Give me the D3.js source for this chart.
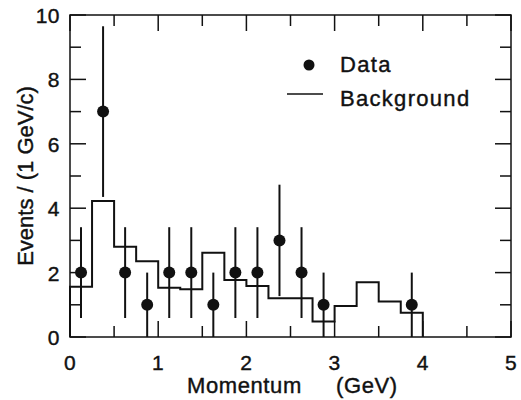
<!DOCTYPE html>
<html>
<head>
<meta charset="utf-8">
<script src="https://cdn.jsdelivr.net/npm/d3@7"></script>
<style>
  body { margin: 0; background: #fff; }
  text { font-family: "Liberation Sans", Arial, Helvetica, sans-serif; fill: #111; stroke: #111; stroke-width: 0.4px; }
</style>
</head>
<body>
<div id="chart"></div>
<script>
// data
const dataMomentum = [0.125, 0.375, 0.625, 0.875, 1.125, 1.375, 1.625, 1.875, 2.125, 2.375, 2.625, 2.875, 3.875];
const dataCounts = [2, 7, 2, 1, 2, 2, 1, 2, 2, 3, 2, 1, 1];
const dataErrors = [1.41, 2.65, 1.41, 1, 1.41, 1.41, 1, 1.41, 1.41, 1.73, 1.41, 1, 1];

const bgBinStart = [0, 0.25, 0.5, 0.75, 1.0, 1.25, 1.5, 1.75, 2.0, 2.25, 2.5, 2.75, 3.0, 3.25, 3.5, 3.75];
const bgValues = [1.56, 4.22, 2.80, 2.35, 1.53, 1.48, 2.62, 1.77, 1.58, 1.20, 1.20, 0.48, 0.96, 1.70, 1.10, 0.75];
const bgEnd = 4.0;

const xTickLabels = [0, 1, 2, 3, 4, 5];
const yTickLabels = [0, 2, 4, 6, 8, 10];

// dimensions
const width = 521,
    height = 400;
const plotLeft = 70, plotRight = 511, plotTop = 15, plotBottom = 337;
const ink = "#111";

const svg = d3.select("#chart")
    .append("svg")
    .attr("width", width)
    .attr("height", height);

const x = d3.scaleLinear().domain([0, 5]).range([plotLeft, plotRight]);
const y = d3.scaleLinear().domain([0, 10]).range([plotBottom, plotTop]);

// frame
svg.append("rect")
    .attr("x", plotLeft)
    .attr("y", plotTop)
    .attr("width", plotRight - plotLeft)
    .attr("height", plotBottom - plotTop)
    .attr("fill", "none")
    .attr("stroke", ink)
    .attr("stroke-width", 1.5);

// inward ticks, longer on the labelled values
const xTicks = d3.range(0, 5.01, 0.5);
const yTicks = d3.range(0, 10.01, 1);
const major = 16, minor = 11;

svg.append("g").selectAll("line")
    .data(xTicks)
    .join("line")
    .attr("x1", d => x(d)).attr("x2", d => x(d))
    .attr("y1", plotBottom)
    .attr("y2", d => plotBottom - (d % 1 === 0 ? major : minor))
    .attr("stroke", ink).attr("stroke-width", 1.5);

svg.append("g").selectAll("line")
    .data(xTicks)
    .join("line")
    .attr("x1", d => x(d)).attr("x2", d => x(d))
    .attr("y1", plotTop)
    .attr("y2", d => plotTop + (d % 1 === 0 ? major : minor))
    .attr("stroke", ink).attr("stroke-width", 1.5);

svg.append("g").selectAll("line")
    .data(yTicks)
    .join("line")
    .attr("y1", d => y(d)).attr("y2", d => y(d))
    .attr("x1", plotLeft)
    .attr("x2", d => plotLeft + (d % 2 === 0 ? major : minor))
    .attr("stroke", ink).attr("stroke-width", 1.5);

svg.append("g").selectAll("line")
    .data(yTicks)
    .join("line")
    .attr("y1", d => y(d)).attr("y2", d => y(d))
    .attr("x1", plotRight)
    .attr("x2", d => plotRight - (d % 2 === 0 ? major : minor))
    .attr("stroke", ink).attr("stroke-width", 1.5);

// tick labels
svg.append("g").selectAll("text")
    .data(xTickLabels)
    .join("text")
    .attr("x", d => x(d))
    .attr("y", 370)
    .attr("text-anchor", "middle")
    .style("font-size", "21px")
    .style("letter-spacing", "0.5px")
    .text(d => d);

svg.append("g").selectAll("text")
    .data(yTickLabels)
    .join("text")
    .attr("x", 60)
    .attr("y", d => y(d) + 8)
    .attr("text-anchor", "end")
    .style("font-size", "21px")
    .style("letter-spacing", "0.5px")
    .text(d => d);

// axis titles
svg.append("text")
    .attr("x", 187)
    .attr("y", 393)
    .style("font-size", "22px")
    .style("letter-spacing", "0.6px")
    .text("Momentum");

svg.append("text")
    .attr("x", 336)
    .attr("y", 393)
    .style("font-size", "22px")
    .style("letter-spacing", "0.6px")
    .text("(GeV)");

svg.append("text")
    .attr("transform", `translate(33, ${(plotTop + plotBottom) / 2}) rotate(-90)`)
    .attr("text-anchor", "middle")
    .style("font-size", "22px")
    .text("Events / (1 GeV/c)");

// background histogram
const histPoints = [[0, 0]]
    .concat(bgBinStart.map((b, i) => [b, bgValues[i]]))
    .concat([[bgEnd, 0]]);

const histLine = d3.line()
    .x(d => x(d[0]))
    .y(d => y(d[1]))
    .curve(d3.curveStepAfter);

svg.append("path")
    .attr("d", histLine(histPoints))
    .attr("fill", "none")
    .attr("stroke", ink)
    .attr("stroke-width", 2);

// data points with error bars
const pts = dataMomentum.map((m, i) => ({ m: m, n: dataCounts[i], e: dataErrors[i] }));

svg.append("g").selectAll("line")
    .data(pts)
    .join("line")
    .attr("x1", d => x(d.m)).attr("x2", d => x(d.m))
    .attr("y1", d => y(Math.max(0, d.n - d.e)))
    .attr("y2", d => y(d.n + d.e))
    .attr("stroke", ink)
    .attr("stroke-width", 2);

svg.append("g").selectAll("circle")
    .data(pts)
    .join("circle")
    .attr("cx", d => x(d.m))
    .attr("cy", d => y(d.n))
    .attr("r", 6)
    .attr("fill", ink);

// legend
const legend = svg.append("g");

legend.append("circle")
    .attr("cx", 309)
    .attr("cy", 65)
    .attr("r", 5.5)
    .attr("fill", ink);

legend.append("line")
    .attr("x1", 287).attr("x2", 323)
    .attr("y1", 94).attr("y2", 94)
    .attr("stroke", ink)
    .attr("stroke-width", 1.5);

legend.append("text")
    .attr("x", 340)
    .attr("y", 72)
    .style("font-size", "22px")
    .style("letter-spacing", "1.3px")
    .text("Data");

legend.append("text")
    .attr("x", 340)
    .attr("y", 106)
    .style("font-size", "22px")
    .style("letter-spacing", "1.3px")
    .text("Background");
</script>
</body>
</html>
